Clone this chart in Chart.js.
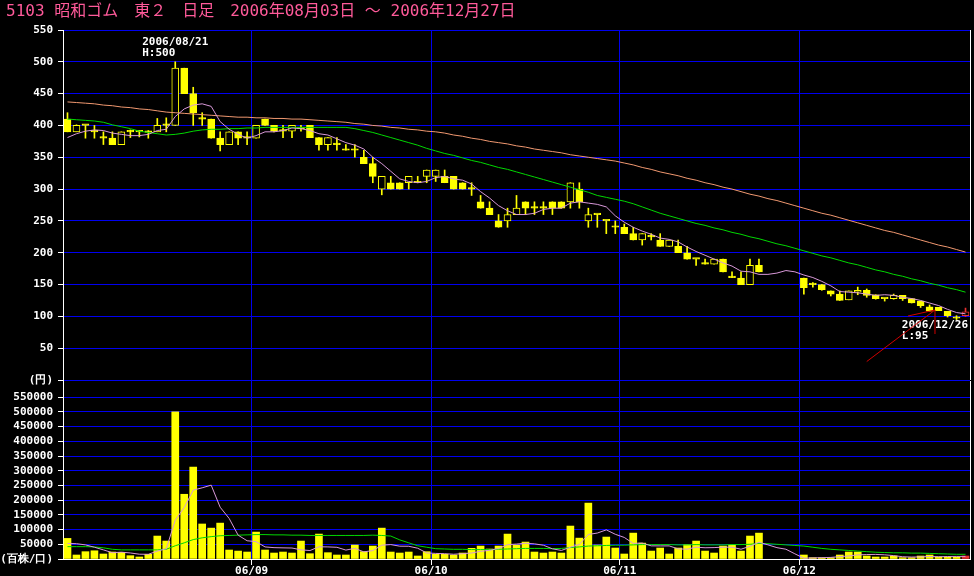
<!DOCTYPE html>
<html>
<head>
<meta charset="utf-8">
<script src="https://cdn.jsdelivr.net/npm/chart.js@4.4.0/dist/chart.umd.min.js"></script>
<style>
  html, body { margin: 0; padding: 0; background: #000; }
  #wrap { position: relative; width: 974px; height: 576px; overflow: hidden; background: #000; }
  canvas { position: absolute; left: 0; top: 0; }
</style>
</head>
<body>
<div id="wrap">
  <canvas id="priceChart" width="974" height="576"></canvas>
  <canvas id="volumeChart" width="974" height="576"></canvas>
</div>
<script>
const title = '5103 昭和ゴム　東２　日足　2006年08月03日 ～ 2006年12月27日';

// trading days, 2006
const augDays = [3, 4, 7, 8, 9, 10, 11, 14, 15, 16, 17, 18, 21, 22, 23, 24, 25, 28, 29, 30, 31];
const sepDays = [1, 4, 5, 6, 7, 8, 11, 12, 13, 14, 15, 19, 20, 21, 22, 25, 26, 27, 28, 29];
const octDays = [2, 3, 4, 5, 6, 10, 11, 12, 13, 16, 17, 18, 19, 20, 23, 24, 25, 26, 27, 30, 31];
const novDays = [1, 2, 6, 7, 8, 9, 10, 13, 14, 15, 16, 17, 20, 21, 22, 24, 27, 28, 29, 30];
const decDays = [1, 4, 5, 6, 7, 8, 11, 12, 13, 14, 15, 18, 19, 20, 21, 22, 25, 26, 27];

const open = [
  410, 390, 400, 390, 380, 380, 370, 390, 390, 389, 390, 400, 400, 490, 450, 410, 410, 380, 370, 390, 380,
  380, 410, 400, 391, 391, 395, 400, 381, 370, 370, 361, 361, 350, 340, 300, 310, 310, 310, 310, 320,
  320, 320, 320, 310, 300, 280, 270, 250, 250, 260, 280, 270, 270, 280, 280, 280, 300, 250, 260, 250, 240,
  240, 230, 220, 225, 220, 210, 210, 200, 190, 182, 182, 190, 161, 160, 150, 180, null, null, null, null,
  160, 150, 150, 140, 135, 126, 138, 141, 134, 128, 128, 133, 128, 124, 115, 114, 108, 97, 101
];
const high = [
  420, 401, 400, 400, 390, 390, 390, 393, 392, 392, 411, 412, 500, 490, 460, 420, 410, 390, 390, 390, 390,
  400, 410, 400, 400, 400, 400, 400, 381, 381, 381, 370, 370, 361, 350, 320, 320, 310, 320, 320, 330,
  330, 330, 320, 310, 310, 290, 280, 260, 270, 290, 280, 280, 280, 280, 280, 310, 310, 270, 260, 250, 250,
  245, 240, 230, 230, 230, 220, 220, 210, 190, 190, 190, 190, 170, 170, 190, 190, null, null, null, null,
  160, 153, 150, 140, 140, 140, 146, 143, 134, 128, 135, 133, 128, 124, 118, 114, 108, 101, 113
];
const low = [
  390, 390, 380, 380, 370, 370, 370, 381, 382, 380, 390, 390, 400, 450, 400, 400, 380, 360, 370, 370, 370,
  380, 400, 390, 381, 381, 391, 381, 361, 361, 361, 361, 350, 340, 310, 291, 300, 300, 300, 310, 310,
  312, 310, 300, 300, 290, 270, 260, 240, 240, 260, 260, 260, 260, 260, 270, 270, 270, 240, 240, 230, 230,
  230, 220, 212, 220, 210, 210, 200, 190, 180, 182, 182, 170, 161, 150, 150, 170, null, null, null, null,
  135, 146, 141, 132, 125, 126, 134, 130, 127, 124, 127, 125, 121, 114, 108, 109, 99, 95, 100
];
const close = [
  390, 400, 400, 390, 380, 370, 390, 390, 390, 389, 400, 400, 490, 450, 420, 410, 380, 370, 390, 380, 380,
  400, 400, 391, 391, 400, 395, 381, 370, 381, 370, 361, 361, 340, 320, 320, 300, 300, 320, 310, 330,
  330, 310, 300, 300, 300, 270, 260, 240, 260, 270, 270, 270, 270, 270, 270, 310, 280, 260, 260, 250, 240,
  230, 220, 230, 225, 210, 220, 200, 190, 190, 182, 190, 170, 161, 150, 180, 170, null, null, null, null,
  145, 150, 142, 135, 125, 140, 141, 133, 128, 128, 133, 128, 121, 117, 108, 109, 101, 97, 107
];

// moving averages (price)
const ma5 = [
  381, 387, 391, 393, 392, 388, 386, 384, 384, 386, 392, 394, 414, 426, 432, 434, 430, 406, 394, 386, 380,
  384, 390, 390, 392, 396, 395, 392, 387, 385, 379, 373, 369, 363, 350, 340, 328, 316, 312, 310, 312,
  318, 320, 316, 314, 308, 296, 286, 274, 266, 260, 260, 262, 268, 270, 270, 278, 280, 278, 276, 272,
  258, 248, 240, 234, 229, 223, 221, 217, 209, 202, 196, 190, 184, 179, 171, 170, 166, 166, 168, 172,
  170, 165, 161, 155, 148, 139, 138, 137, 135, 133, 134, 133, 130, 128, 125, 121, 117, 111, 106, 104
];
const ma25 = [
  410, 409, 408, 407, 405, 401, 398, 395, 391, 389, 387,
  385, 386, 388, 391, 393, 394, 394, 395, 395, 396,
  396, 397, 397, 397, 397, 397, 397, 397, 397, 397,
  397, 395, 392, 389, 385, 381, 377, 373, 369, 364,
  360, 356, 353, 349, 345, 342, 338, 334, 331, 327, 323,
  319, 315, 311, 307, 303, 299, 295, 290, 287, 284, 281,
  277, 272, 267, 262, 258, 254, 250, 246, 243, 239,
  236, 232, 229, 225, 222, 218, 214, 211, 207, 203,
  199, 195, 192, 188, 184, 181, 177, 173, 170, 166, 163, 159, 156, 152, 149, 145, 142, 138
];
const ma75 = [
  437, 436, 435, 434, 432, 431, 429, 428, 426, 425, 423,
  421, 420, 419, 418, 417, 416, 415, 414, 413, 413,
  412, 412, 411, 411, 410, 410, 409, 408, 407, 406,
  405, 403, 402, 400, 399, 397, 396, 394, 393, 391,
  390, 388, 385, 383, 380, 378, 375, 373, 371, 368, 366,
  363, 361, 359, 357, 354, 352, 350, 348, 346, 344,
  341, 338, 334, 331, 327, 324, 321, 317, 314, 310, 307,
  303, 300, 296, 292, 289, 285, 282, 278, 274, 270,
  266, 262, 259, 255, 251, 247, 243, 239, 235, 232, 228, 224, 220, 216, 212, 209, 205, 201
];

// volume (hundred shares) and its moving averages
const volume = [
  70000, 13600, 24900, 28000, 17000, 23700, 22600, 11300, 6800, 15800,
  78000, 61000, 500000, 220000, 312000, 119000, 105000, 122000, 30500, 27000,
  23700, 91500, 30500, 20300, 23700, 20300, 61000, 18000, 84700, 21500,
  13600, 13600, 47500, 24900, 44000, 105000, 23700, 20300, 23700, 10200,
  24900, 15800, 15800, 13600, 20300, 36200, 44000, 33900, 44000, 84700,
  47500, 57600, 23700, 20300, 23700, 20300, 112000, 71000, 190000, 47500,
  74600, 37300, 17000, 88000, 54000, 27000, 37300, 17000, 37300, 48600,
  61000, 27000, 20300, 44000, 47500, 27000, 78000, 88000, null, null,
  null, null, 13600, 4500, 4500, 4500, 13600, 23700, 23700, 10200,
  6800, 6800, 10200, 4500, 4500, 10200, 13600, 6800, 6800, 6800,
  10200
];
const vma5 = [
  53000, 52000, 48000, 40000, 31000, 21400, 23200, 20500, 16300, 16000,
  26900, 34600, 132000, 175000, 234000, 242000, 251000, 176000, 138000, 81000,
  62000, 59000, 41000, 38600, 37900, 37300, 31200, 28700, 41500, 41100,
  39800, 30300, 36200, 24200, 28700, 47000, 49000, 43600, 43300, 36600,
  20600, 19000, 18100, 16100, 18100, 20300, 26000, 29600, 35700, 48600,
  50800, 53500, 51500, 46800, 34600, 29100, 40000, 49500, 83400, 88200,
  99000, 84000, 73300, 52900, 54200, 44700, 44500, 44500, 34400, 33300,
  40100, 38200, 38800, 40200, 40000, 33200, 43400, 56900, 48100, 38600,
  33200, 17600, 2700, 3600, 4500, 5400, 8100, 10200, 14000, 15100,
  15600, 14200, 11500, 7700, 6600, 7200, 8600, 7900, 8400, 8800,
  8800
];
const vma25 = [
  42000, 42000, 42000, 41000, 38000,
  33000, 31000, 31000, 31000, 31000, 31000, 33000,
  45000, 55000, 66000, 72000, 76000, 79000, 80000, 81000, 82000,
  83000, 83000, 82000, 82000, 81000, 81000, 80000, 80000, 80000, 80000, 80000, 80000, 80000, 81000, 80000, 78000,
  65000, 55000, 45000, 40000,
  35000, 34000, 33000, 33000, 32000, 32000, 32000, 33000, 34000, 35000, 36000, 36000, 36000, 35000, 36000,
  39000, 41000, 44000, 45000, 46000, 47000, 47000, 48000, 49000, 49000, 49000,
  49000, 48000, 48000, 49000, 48000, 48000, 48000, 49000, 49000, 50000, 53000,
  52000, 50000, 48000, 46000, 44000,
  40000, 36000, 33000, 31000, 29000, 27000, 25000, 23000, 22000, 21000, 21000, 20000, 20000, 19000, 18000, 17000, 16000, 16000
];

const priceTicks = [0, 50, 100, 150, 200, 250, 300, 350, 400, 450, 500, 550];
const volumeTicks = [0, 50000, 100000, 150000, 200000, 250000, 300000, 350000, 400000, 450000, 500000, 550000];

const pad = (n) => String(n).padStart(2, '0');
const labels = [
  ...augDays.map((d) => `2006/08/${pad(d)}`),
  ...sepDays.map((d) => `2006/09/${pad(d)}`),
  ...octDays.map((d) => `2006/10/${pad(d)}`),
  ...novDays.map((d) => `2006/11/${pad(d)}`),
  ...decDays.map((d) => `2006/12/${pad(d)}`),
];
const monthStarts = labels
  .map((l, i) => (i > 0 && l.slice(5, 7) !== labels[i - 1].slice(5, 7) ? i : -1))
  .filter((i) => i >= 0);
const lastIndex = labels.length - 1;

const YELLOW = '#ffff00';
const LAST = '#e83030';
const GRID = '#0000f0';
const PINK = '#d898d8';
const GREEN = '#00d800';
const ORANGE = '#f09870';
const tickFont = { family: 'DejaVu Sans Mono', size: 11, weight: 'bold' };

const candleColor = (i) => (i === lastIndex ? LAST : YELLOW);
const isUp = (i) => close[i] > open[i];

const gridColor = (ctx) => (monthStarts.includes(ctx.index) ? GRID : 'rgba(0,0,0,0)');
const tickMarkColor = (ctx) => (monthStarts.includes(ctx.index) ? '#ffffff' : 'rgba(0,0,0,0)');

const maLine = (data, color) => ({
  type: 'line',
  data: data,
  borderColor: color,
  borderWidth: 1,
  pointRadius: 0,
  tension: 0,
  order: 0,
});

const frame = {
  id: 'frame',
  afterDraw(chart) {
    const { ctx, chartArea } = chart;
    ctx.save();
    ctx.strokeStyle = '#ffffff';
    ctx.lineWidth = 1;
    ctx.beginPath();
    ctx.moveTo(chartArea.right + 0.5, chartArea.top);
    ctx.lineTo(chartArea.right + 0.5, chartArea.bottom);
    ctx.stroke();
    ctx.restore();
  },
};

const notes = {
  id: 'notes',
  afterDraw(chart) {
    const { ctx, chartArea } = chart;
    const xs = chart.scales.x;
    const ys = chart.scales.y;

    ctx.save();
    ctx.fillStyle = '#ff5a9a';
    ctx.font = "16px 'DejaVu Sans Mono', 'Noto Sans CJK JP'";
    ctx.textBaseline = 'middle';
    ctx.textAlign = 'left';
    ctx.fillText(title, 6, 12);

    // highest high / lowest low
    let hi = 0;
    let lo = 0;
    high.forEach((h, i) => { if (h != null && h > high[hi]) hi = i; });
    low.forEach((l, i) => { if (l != null && l < low[lo]) lo = i; });

    ctx.fillStyle = '#ffffff';
    ctx.font = "bold 11px 'DejaVu Sans Mono'";
    const hiText = labels[hi];
    const hiW = ctx.measureText(hiText).width;
    const hx = xs.getPixelForValue(hi) - hiW / 2;
    const hy = ys.getPixelForValue(high[hi]);
    ctx.fillText(hiText, hx, hy - 20);
    ctx.fillText('H:' + high[hi], hx, hy - 9);

    const loText = labels[lo];
    const loW = ctx.measureText(loText).width;
    const lx = chartArea.right - 2 - loW;
    const ly = ys.getPixelForValue(low[lo]);
    ctx.fillText(loText, lx, ly + 6);
    ctx.fillText('L:' + low[lo], lx, ly + 17);

    // red arrow toward the last lows
    const tipX = xs.getPixelForValue(96.6);
    const tipY = ys.getPixelForValue(110);
    const tailX = xs.getPixelForValue(89.0);
    const tailY = ys.getPixelForValue(29);
    ctx.strokeStyle = '#d00000';
    ctx.lineWidth = 1;
    ctx.beginPath();
    ctx.moveTo(tailX, tailY);
    ctx.lineTo(tipX, tipY);
    ctx.moveTo(tipX, tipY);
    ctx.lineTo(tipX, tipY + 24);
    ctx.moveTo(tipX, tipY);
    ctx.lineTo(tipX - 27, tipY + 6);
    ctx.stroke();
    ctx.restore();
  },
};

Chart.defaults.animation = false;
Chart.defaults.color = '#ffffff';

new Chart(document.getElementById('priceChart'), {
  type: 'bar',
  data: {
    labels: labels,
    datasets: [
      maLine(ma5, PINK),
      maLine(ma25, GREEN),
      maLine(ma75, ORANGE),
      {
        data: open.map((o, i) => (o == null ? null : [o, close[i]])),
        backgroundColor: open.map((o, i) => (isUp(i) ? '#000000' : candleColor(i))),
        borderColor: open.map((o, i) => candleColor(i)),
        borderWidth: 1,
        borderSkipped: false,
        barThickness: 7,
        minBarLength: 1.5,
        grouped: false,
        order: 1,
      },
      {
        data: low.map((l, i) => (l == null ? null : [l, high[i]])),
        backgroundColor: low.map((l, i) => candleColor(i)),
        borderWidth: 0,
        barThickness: 1,
        grouped: false,
        order: 2,
      },
    ],
  },
  options: {
    responsive: false,
    devicePixelRatio: 1,
    layout: { padding: { top: 30, right: 4, left: 0, bottom: 0 } },
    plugins: { legend: { display: false }, tooltip: { enabled: false } },
    scales: {
      x: {
        type: 'category',
        offset: true,
        grid: { offset: true, color: gridColor, drawTicks: false },
        border: { display: false },
        ticks: { display: false, autoSkip: false },
        afterFit(scale) { scale.height = 196; },
      },
      y: {
        min: 0,
        max: 550,
        afterBuildTicks(scale) { scale.ticks = priceTicks.map((v) => ({ value: v })); },
        afterFit(scale) { scale.width = 63; },
        grid: { color: GRID, tickColor: '#ffffff', tickLength: 5 },
        border: { color: '#ffffff' },
        ticks: {
          autoSkip: false,
          color: '#ffffff',
          font: tickFont,
          padding: 5,
          callback: (v) => (v === 0 ? '(円)' : v),
        },
      },
    },
  },
  plugins: [frame, notes],
});

new Chart(document.getElementById('volumeChart'), {
  type: 'bar',
  data: {
    labels: labels,
    datasets: [
      maLine(vma5, PINK),
      maLine(vma25, GREEN),
      {
        data: volume,
        backgroundColor: volume.map((v, i) => candleColor(i)),
        borderWidth: 0,
        barThickness: 7,
        grouped: false,
        order: 1,
      },
    ],
  },
  options: {
    responsive: false,
    devicePixelRatio: 1,
    layout: { padding: { top: 381, right: 4, left: 0, bottom: 0 } },
    plugins: { legend: { display: false }, tooltip: { enabled: false } },
    scales: {
      x: {
        type: 'category',
        offset: true,
        grid: { offset: true, color: gridColor, tickColor: tickMarkColor, tickLength: 6 },
        border: { color: '#ffffff' },
        ticks: {
          autoSkip: false,
          maxRotation: 0,
          padding: 0,
          labelOffset: -4.5,
          color: '#ffffff',
          font: tickFont,
          callback: (v, i) => (monthStarts.includes(i) ? labels[i].slice(2, 7) : ''),
        },
        afterFit(scale) { scale.height = 17; },
      },
      y: {
        min: 0,
        max: 605000,
        afterBuildTicks(scale) { scale.ticks = volumeTicks.map((v) => ({ value: v })); },
        afterFit(scale) { scale.width = 63; },
        grid: { color: GRID, tickColor: '#ffffff', tickLength: 5 },
        border: { color: '#ffffff' },
        ticks: {
          autoSkip: false,
          color: '#ffffff',
          font: tickFont,
          padding: 5,
          callback: (v) => (v === 0 ? '(百株/口)' : v),
        },
      },
    },
  },
  plugins: [frame],
});
</script>
</body>
</html>
